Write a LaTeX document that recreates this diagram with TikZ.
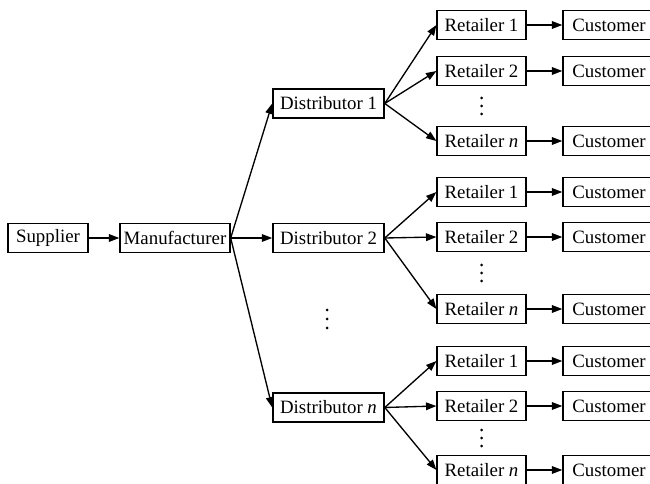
\documentclass[tikz,border=0pt]{standalone}
\usepackage{fontspec}
\setmainfont{Liberation Serif}
\usetikzlibrary{arrows.meta,positioning,calc}

\begin{document}
\begin{tikzpicture}[
  x=0.025cm, y=-0.025cm,
  font=\fontsize{13.4}{15}\selectfont,
  box/.style={draw=black,line width=0.95pt,minimum height=0.72cm,inner sep=0pt},
  sup/.style={box,minimum width=2.0cm},
  man/.style={box,minimum width=2.75cm},
  dist/.style={box,minimum width=2.78cm},
  ret/.style={box,minimum width=2.22cm},
  cust/.style={box,minimum width=2.3cm},
  flow/.style={draw=black,line width=0.95pt,-{Triangle[length=2.6mm,width=1.9mm]}},
  dot/.style={fill=black}
]
\useasboundingbox (0,0) rectangle (650,484);

% ---- supplier and manufacturer ----
\node[sup] (sup) at (48,238) {Supplier};
\node[man] (man) at (175,238) {Manufacturer};
\draw[flow] (sup.east) -- (man.west);

% ---- distributors, retailers, customers ----
\foreach \g/\lab/\y/\ya/\yb/\yc in {1/1/103.5/25/71/141, 2/2/238/192/237/309, n/\textit{n}/407.5/361/406/470} {
  \node[dist] (d\g) at (328.5,\y) {Distributor \lab};
  \draw[flow] (man.east) -- (d\g.west);
  \foreach \r/\rlab/\ry in {1/1/\ya, 2/2/\yb, n/\textit{n}/\yc} {
    \node[ret]  (r\g\r) at (481.5,\ry) {Retailer \rlab};
    \node[cust] (c\g\r) at (609,\ry) {Customer};
    \draw[flow] (d\g.east) -- (r\g\r.west);
    \draw[flow] (r\g\r.east) -- (c\g\r.west);
  }
  % vertical dots between retailer 2 and retailer n
  \coordinate (vd\g) at ($(r\g2.south)!0.5!(r\g n.north)$);
  \foreach \k in {-8,0,8} \fill[dot] ($(vd\g)+(0,\k)$) circle (1.5);
}

% gap between distributors
\coordinate (vdm) at (327,319);
\foreach \k in {-9,0,9} \fill[dot] ($(vdm)+(0,\k)$) circle (1.5);

\end{tikzpicture}
\end{document}
